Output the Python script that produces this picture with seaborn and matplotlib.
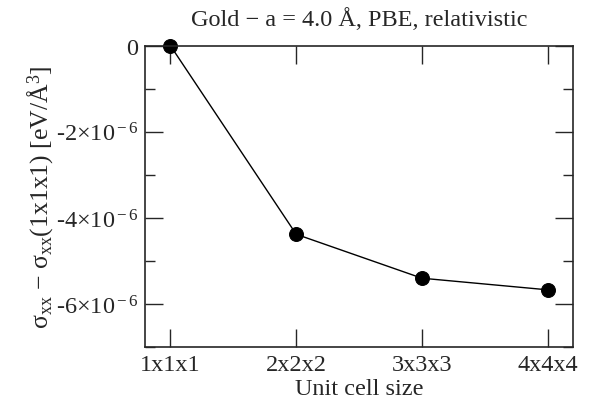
import numpy as np
import pandas as pd
import seaborn as sns
import matplotlib
matplotlib.use("Agg")
import matplotlib.pyplot as plt
from matplotlib.ticker import MultipleLocator, FuncFormatter

# data
cells = ["1x1x1", "2x2x2", "3x3x3", "4x4x4"]
stress = [0.0, -4.38e-6, -5.40e-6, -5.67e-6]

df = pd.DataFrame({"cell": cells, "stress": stress})

sns.set_style("ticks")
plt.rcParams["font.family"] = ["Liberation Serif", "DejaVu Serif"]
plt.rcParams["mathtext.fontset"] = "custom"
plt.rcParams["mathtext.rm"] = "Liberation Serif"
plt.rcParams["mathtext.it"] = "Liberation Serif:italic"
plt.rcParams["font.size"] = 17.5

fig, ax = plt.subplots(figsize=(5.98, 4.10), dpi=100)
sns.pointplot(data=df, x="cell", y="stress", color="black", markers="o",
              markersize=10, linewidth=1, ax=ax)
for ln in ax.lines:
    ln.set_clip_on(False)

ax.set_xlim(-0.2, 3.2)
ax.set_ylim(-7e-6, 0)

ax.yaxis.set_major_locator(MultipleLocator(2e-6))
ax.yaxis.set_minor_locator(MultipleLocator(1e-6))


def sci(v, pos):
    if abs(v) < 1e-12:
        return "0"
    m = int(round(v / 1e-6))
    return "%d×10$^{\\rm -6}$" % m


ax.yaxis.set_major_formatter(FuncFormatter(sci))
ax.tick_params(axis="both", which="major", direction="in", length=13, width=1,
               top=True, right=True, labelsize=17.5, pad=5)
ax.tick_params(axis="y", which="minor", direction="in", length=7, width=1,
               right=True, left=True)
for s in ax.spines.values():
    s.set_visible(True)
    s.set_linewidth(1.2)

ax.set_xlabel("Unit cell size", fontsize=17.5, labelpad=2)
ax.set_ylabel("σ$_{\\rm xx}$ − σ$_{\\rm xx}$(1x1x1) [eV/Å$^{\\rm 3}$]",
              fontsize=18.5, labelpad=0)
ax.set_title("Gold − a = 4.0 Å, PBE, relativistic", fontsize=17.5, pad=15)

fig.subplots_adjust(left=0.243, right=0.958, top=0.886, bottom=0.151)
fig.savefig("out.png", dpi=100)
